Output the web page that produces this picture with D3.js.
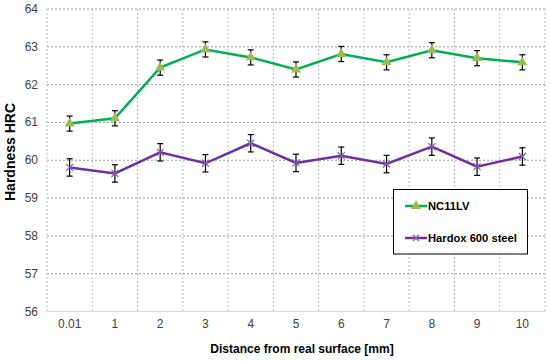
<!DOCTYPE html>
<html><head><meta charset="utf-8">
<script src="https://cdn.jsdelivr.net/npm/d3@7"></script>
<style>body{margin:0;background:#fff}svg{display:block}</style>
</head><body>
<svg id="c" width="550" height="361"></svg>
<script>
const categories = ["0.01","1","2","3","4","5","6","7","8","9","10"];
const nc11lv = [60.97,61.11,62.45,62.93,62.72,62.40,62.81,62.59,62.91,62.70,62.59];
const nc11lvErr = [0.2,0.2,0.2,0.2,0.2,0.2,0.2,0.2,0.2,0.2,0.2];
const hardox = [59.81,59.65,60.21,59.92,60.45,59.93,60.12,59.90,60.36,59.83,60.10];
const hardoxErr = [0.23,0.23,0.23,0.23,0.23,0.23,0.23,0.23,0.23,0.23,0.23];
const yTicks = [56,57,58,59,60,61,62,63,64];

const svg = d3.select("#c");
const m = {l:47, r:545, t:9, b:311.5};
const x = d3.scaleBand().domain(categories).range([m.l, m.r]);
const y = d3.scaleLinear().domain([56,64]).range([m.b, m.t]);
const FONT = "Liberation Sans, Arial, sans-serif";

// grid
svg.append("g").selectAll("line.h").data(yTicks.filter(d=>d>56)).join("line")
  .attr("x1", m.l).attr("x2", m.r).attr("y1", d=>y(d)).attr("y2", d=>y(d))
  .attr("stroke","#9a9a9a").attr("stroke-width",1).attr("stroke-dasharray","2,2");
const vb = categories.map(c=>x(c)).concat([m.r]);
svg.append("g").selectAll("line.v").data(vb).join("line")
  .attr("x1", d=>d).attr("x2", d=>d).attr("y1", m.t).attr("y2", m.b)
  .attr("stroke","#bdbdbd").attr("stroke-width",1).attr("stroke-dasharray","2,2");
// bottom axis
svg.append("line").attr("x1",m.l).attr("x2",m.r).attr("y1",m.b).attr("y2",m.b)
  .attr("stroke","#d9d9d9").attr("stroke-width",1.2);

// y tick labels
svg.append("g").selectAll("text").data(yTicks).join("text")
  .attr("x", 38).attr("y", d=>y(d)+4).attr("text-anchor","end")
  .attr("font-family",FONT).attr("font-size",12).attr("fill","#404040")
  .text(d=>d);
// x tick labels
svg.append("g").selectAll("text").data(categories).join("text")
  .attr("x", d=>x(d)+x.bandwidth()/2).attr("y", 328).attr("text-anchor","middle")
  .attr("font-family",FONT).attr("font-size",12).attr("fill","#404040")
  .text(d=>d);
// titles
svg.append("text").attr("x", 302).attr("y", 353).attr("text-anchor","middle")
  .attr("font-family",FONT).attr("font-size",12).attr("font-weight","bold")
  .attr("fill","#000").text("Distance from real surface [mm]");
svg.append("text").attr("transform",`translate(14.5,152) rotate(-90)`).attr("text-anchor","middle")
  .attr("font-family",FONT).attr("font-size",14).attr("font-weight","bold")
  .attr("fill","#000").text("Hardness HRC");

const cx = (d,i)=>x(categories[i])+x.bandwidth()/2;
const line = d3.line().x((d,i)=>cx(d,i)).y(d=>y(d));

function errorBars(vals, errs){
  const g = svg.append("g").attr("stroke","#000").attr("stroke-width",1.2);
  vals.forEach((v,i)=>{
    const X = cx(v,i), y1 = y(v+errs[i]), y2 = y(v-errs[i]);
    g.append("line").attr("x1",X).attr("x2",X).attr("y1",y1).attr("y2",y2);
    g.append("line").attr("x1",X-3).attr("x2",X+3).attr("y1",y1).attr("y2",y1);
    g.append("line").attr("x1",X-3).attr("x2",X+3).attr("y1",y2).attr("y2",y2);
  });
}
errorBars(nc11lv, nc11lvErr);
errorBars(hardox, hardoxErr);

svg.append("path").datum(nc11lv).attr("d", line).attr("fill","none").attr("stroke","#00b050").attr("stroke-width",2.5);
svg.append("path").datum(hardox).attr("d", line).attr("fill","none").attr("stroke","#7030a0").attr("stroke-width",2.5);

const tri = d3.symbol().type(d3.symbolTriangle).size(45);
svg.append("g").selectAll("path").data(nc11lv).join("path")
  .attr("d", tri).attr("transform",(d,i)=>`translate(${cx(d,i)},${y(d)})`).attr("fill","#9bbb59");
function xMark(g, X, Y, s){
  g.append("line").attr("x1",X-s).attr("x2",X+s).attr("y1",Y-s).attr("y2",Y+s);
  g.append("line").attr("x1",X-s).attr("x2",X+s).attr("y1",Y+s).attr("y2",Y-s);
}
const xg = svg.append("g").attr("stroke","#8064a2").attr("stroke-width",1.2);
hardox.forEach((d,i)=>xMark(xg, cx(d,i), y(d), 3.5));

// legend
const lg = svg.append("g");
lg.append("rect").attr("x",393.5).attr("y",189.5).attr("width",134).attr("height",64.5)
  .attr("fill","#fff").attr("stroke","#000").attr("stroke-width",1);
lg.append("line").attr("x1",405).attr("x2",427).attr("y1",206).attr("y2",206).attr("stroke","#00b050").attr("stroke-width",2.5);
lg.append("path").attr("d",tri).attr("transform","translate(416,206)").attr("fill","#9bbb59");
lg.append("text").attr("x",428).attr("y",210).attr("font-family",FONT)
  .attr("font-size",11.2).attr("font-weight","bold").text("NC11LV");
lg.append("line").attr("x1",405).attr("x2",427).attr("y1",238).attr("y2",238).attr("stroke","#7030a0").attr("stroke-width",2.5);
const lx = lg.append("g").attr("stroke","#8064a2").attr("stroke-width",1.2);
xMark(lx, 416, 238, 3);
lg.append("text").attr("x",428).attr("y",242).attr("font-family",FONT)
  .attr("font-size",11.2).attr("font-weight","bold").text("Hardox 600 steel");
</script>
</body></html>
